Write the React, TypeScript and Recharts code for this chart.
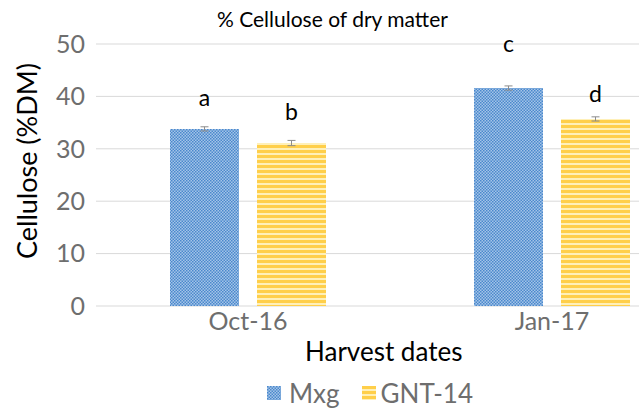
import React from 'react';
import { BarChart, Bar, XAxis, YAxis, CartesianGrid, ErrorBar, LabelList } from 'recharts';

const categories = ['Oct-16', 'Jan-17'];
const mxgValues = [33.8, 41.6];
const gntValues = [31.1, 35.7];
const mxgErrors = [0.4, 0.4];
const gntErrors = [0.5, 0.4];
const mxgLetters = ['a', 'c'];
const gntLetters = ['b', 'd'];
const yTicks = [0, 10, 20, 30, 40, 50];
const seriesNames = ['Mxg', 'GNT-14'];

const data = categories.map((c, i) => ({
  category: c,
  mxg: mxgValues[i],
  gnt: gntValues[i],
  mxgErr: mxgErrors[i],
  gntErr: gntErrors[i],
  mxgLetter: mxgLetters[i],
  gntLetter: gntLetters[i],
}));

const FONT = 'Lato, "Open Sans", sans-serif';
const letterLift: Record<string, number> = { a: 23, b: 23, c: 36, d: 17 };

const LetterLabel = (props: any) => {
  const { x, y, width, value } = props;
  const lift = letterLift[value] ?? 23;
  return (
    <text x={x + width / 2} y={y - lift} textAnchor="middle" fontSize={23} fill="#000" fontFamily={FONT}>
      {value}
    </text>
  );
};

const Patterns = () => (
  <svg width={0} height={0} style={{ position: 'absolute' }}>
    <defs>
      <pattern id="patBlue" width={3} height={3} patternUnits="userSpaceOnUse">
        <rect width={3} height={3} fill="#a4c4e8" />
        <rect x={0} y={0} width={1.5} height={1.5} fill="#4a88cc" />
        <rect x={1.5} y={1.5} width={1.5} height={1.5} fill="#4a88cc" />
      </pattern>
      <pattern id="patYellow" width={6} height={5} patternUnits="userSpaceOnUse">
        <rect width={6} height={5} fill="#fff0b8" />
        <rect width={6} height={3} fill="#ffcf4a" />
      </pattern>
    </defs>
  </svg>
);

const Swatch = ({ fill }: { fill: string }) => (
  <svg width={14} height={14} style={{ display: 'block' }}>
    <rect width={14} height={14} fill={fill} />
  </svg>
);

export default function App() {
  return (
    <div style={{ position: 'absolute', left: 0, top: 0, width: 639, height: 408, overflow: 'hidden', background: '#fff' }}>
      <Patterns />
      <div style={{ position: 'absolute', left: 0, top: 0 }}>
        <BarChart
          width={720}
          height={408}
          data={data}
          margin={{ top: 44, right: 16, bottom: 0, left: 0 }}
          barCategoryGap={74}
          barGap={18}
        >
          <CartesianGrid horizontal vertical={false} stroke="#d9d9d9" />
          <XAxis
            dataKey="category"
            axisLine={false}
            tickLine={false}
            tickSize={0}
            tickMargin={6}
            height={102}
            tick={{ fill: '#6e6e6e', fontSize: 25, fontFamily: FONT }}
          />
          <YAxis
            width={96}
            domain={[0, 50]}
            ticks={yTicks}
            axisLine={false}
            tickLine={false}
            tickSize={0}
            tickMargin={11}
            tick={{ fill: '#6e6e6e', fontSize: 25, fontFamily: FONT }}
          />
          <Bar dataKey="mxg" name={seriesNames[0]} fill="url(#patBlue)" barSize={69} isAnimationActive={false}>
            <ErrorBar dataKey="mxgErr" width={4} stroke="#8c8c8c" strokeWidth={1} />
            <LabelList dataKey="mxgLetter" content={<LetterLabel />} />
          </Bar>
          <Bar dataKey="gnt" name={seriesNames[1]} fill="url(#patYellow)" barSize={69} isAnimationActive={false}>
            <ErrorBar dataKey="gntErr" width={4} stroke="#8c8c8c" strokeWidth={1} />
            <LabelList dataKey="gntLetter" content={<LetterLabel />} />
          </Bar>
        </BarChart>
      </div>
      <div style={{ position: 'absolute', left: 217, top: 6, whiteSpace: 'nowrap', fontFamily: FONT, fontSize: 21, color: '#000' }}>
        % Cellulose of dry matter
      </div>
      <div
        style={{
          position: 'absolute',
          left: 26,
          top: 161,
          transform: 'translate(-50%, -50%) rotate(-90deg)',
          whiteSpace: 'nowrap',
          fontFamily: FONT,
          fontSize: 27,
          color: '#000',
        }}
      >
        Cellulose (%DM)
      </div>
      <div style={{ position: 'absolute', left: 305, top: 335, whiteSpace: 'nowrap', fontFamily: FONT, fontSize: 26, color: '#000' }}>
        Harvest dates
      </div>
      <div
        style={{
          position: 'absolute',
          left: 267,
          top: 377,
          display: 'flex',
          alignItems: 'center',
          whiteSpace: 'nowrap',
          fontFamily: FONT,
          fontSize: 26,
          color: '#6e6e6e',
        }}
      >
        <Swatch fill="url(#patBlue)" />
        <span style={{ marginLeft: 8, marginRight: 22 }}>{seriesNames[0]}</span>
        <Swatch fill="url(#patYellow)" />
        <span style={{ marginLeft: 5 }}>{seriesNames[1]}</span>
      </div>
    </div>
  );
}
